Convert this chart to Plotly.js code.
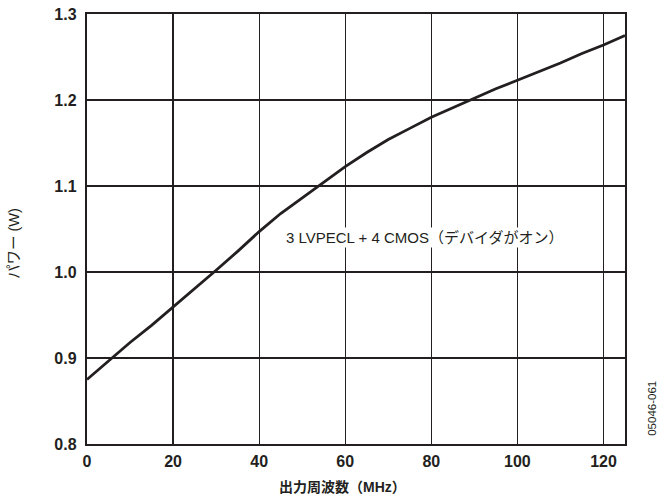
<!DOCTYPE html>
<html>
<head>
<meta charset="utf-8">
<script src="https://cdn.plot.ly/plotly-3.0.1.min.js"></script>
<style>html,body{margin:0;padding:0;background:#fff;}#chart{width:666px;height:501px;}</style>
</head>
<body>
<div id="chart"></div>
<script>
const freqMHz = [0,5,10,15,20,25,30,35,40,45,50,55,60,65,70,75,80,85,90,95,100,105,110,115,120,125];
const powerW = [0.875,0.897,0.918,0.938,0.959,0.980,1.002,1.024,1.047,1.068,1.086,1.104,1.1225,1.139,1.154,1.167,1.180,1.191,1.202,1.213,1.223,1.233,1.243,1.254,1.264,1.275];
const xTitle = "出力周波数（MHz）";
const yTitle = "パワー (W)";
const seriesLabel = "3 LVPECL + 4 CMOS（デバイダがオン）";
const figId = "05046-061";

const FONT = "Liberation Sans, Arial, 'Noto Sans CJK JP', sans-serif";

const trace = {
  x: freqMHz, y: powerW, type: 'scatter', mode: 'lines',
  line: {color: '#231f20', width: 2.8}, showlegend: false, hoverinfo: 'skip'
};

const layout = {
  width: 666, height: 501,
  margin: {l: 86.5, r: 40.5, t: 14, b: 57},
  paper_bgcolor: '#fff', plot_bgcolor: '#fff',
  font: {family: FONT, color: '#231f20'},
  xaxis: {
    range: [0, 125], dtick: 20, tick0: 0,
    showgrid: true, gridcolor: '#231f20', gridwidth: 1.2,
    showline: true, linecolor: '#231f20', linewidth: 2.2, mirror: true,
    ticks: '', zeroline: false, ticklabelstandoff: 2,
    tickfont: {family: FONT, size: 16, color: '#231f20', weight: 'bold'}
  },
  yaxis: {
    range: [0.8, 1.3], dtick: 0.1, tick0: 0.8, tickformat: '.1f',
    showgrid: true, gridcolor: '#231f20', gridwidth: 1.2,
    showline: true, linecolor: '#231f20', linewidth: 2.2, mirror: true,
    ticks: '', zeroline: false, ticklabelstandoff: 5,
    tickfont: {family: FONT, size: 16, color: '#231f20', weight: 'bold'}
  },
  annotations: [
    {text: seriesLabel, x: 78.3, y: 1.0403, xref: 'x', yref: 'y', showarrow: false,
     font: {family: FONT, size: 15, color: '#231f20'}, bgcolor: '#fff'},
    {text: xTitle, x: 0.474, y: -0.1, xref: 'paper', yref: 'paper', showarrow: false,
     xanchor: 'center', yanchor: 'middle',
     font: {family: FONT, size: 14, color: '#231f20', weight: 'bold'}},
    {text: yTitle, x: -0.136, y: 0.467, xref: 'paper', yref: 'paper', showarrow: false,
     xanchor: 'center', yanchor: 'middle', textangle: -90,
     font: {family: FONT, size: 14.5, color: '#231f20'}},
    {text: figId, x: 1.05, y: 0.084, xref: 'paper', yref: 'paper', showarrow: false,
     xanchor: 'center', yanchor: 'middle', textangle: -90,
     font: {family: FONT, size: 11.5, color: '#231f20'}}
  ]
};

Plotly.newPlot('chart', [trace], layout, {staticPlot: true, displayModeBar: false});
</script>
</body>
</html>
